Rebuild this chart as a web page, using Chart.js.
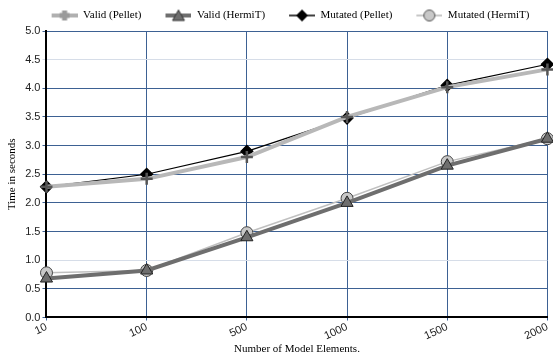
<!DOCTYPE html>
<html>
<head>
<meta charset="utf-8">
<script src="https://cdn.jsdelivr.net/npm/chart.js@4"></script>
<style>
  html, body { margin: 0; padding: 0; background: #fff; overflow: hidden; }
  .kutu { width: 553px; height: 358px; }
</style>
</head>
<body>
<div class="kutu"><canvas id="grafik"></canvas></div>
<script>
const elemanlar = ['10', '100', '500', '1000', '1500', '2000'];
const validPellet = [2.28, 2.42, 2.80, 3.50, 4.02, 4.33];
const validHermit = [0.68, 0.82, 1.40, 2.00, 2.65, 3.12];
const mutatedPellet = [2.28, 2.50, 2.90, 3.48, 4.05, 4.42];
const mutatedHermit = [0.78, 0.82, 1.48, 2.08, 2.72, 3.12];

// legend icon: blank gap on the left, then a short line with the marker in the middle
const BOSLUK = 16;
function ikon(renk, kalinlik, cizMarker) {
  const c = document.createElement('canvas');
  c.width = 26 + BOSLUK; c.height = 14;
  const x = c.getContext('2d');
  x.translate(BOSLUK, 0);
  x.strokeStyle = renk; x.lineWidth = kalinlik;
  x.beginPath(); x.moveTo(0, 7); x.lineTo(26, 7); x.stroke();
  cizMarker(x);
  return c;
}

const ikonlar = [
  ikon('#b0b0b0', 4, x => {
    x.fillStyle = '#9a9a9a';
    x.fillRect(10.5, 2, 5, 10); x.fillRect(8, 4.5, 10, 5);
  }),
  ikon('#6e6e6e', 4, x => {
    x.fillStyle = '#6e6e6e'; x.strokeStyle = '#333'; x.lineWidth = 1;
    x.beginPath(); x.moveTo(13, 1.5); x.lineTo(19, 12); x.lineTo(7, 12); x.closePath();
    x.fill(); x.stroke();
  }),
  ikon('#000', 1.5, x => {
    x.fillStyle = '#000';
    x.beginPath(); x.moveTo(13, 1); x.lineTo(19, 7); x.lineTo(13, 13); x.lineTo(7, 7); x.closePath();
    x.fill();
  }),
  ikon('#b5b5b5', 1.5, x => {
    x.fillStyle = '#c8c8c8'; x.strokeStyle = '#555'; x.lineWidth = 1;
    x.beginPath(); x.arc(13, 7, 5.5, 0, Math.PI * 2); x.fill(); x.stroke();
  })
];

const ctx = document.getElementById('grafik').getContext('2d');
new Chart(ctx, {
  type: 'line',
  data: {
    labels: elemanlar,
    datasets: [
      {
        label: 'Valid (Pellet)', data: validPellet,
        borderColor: '#b8b8b8', borderWidth: 4,
        pointStyle: 'crossRot', pointRotation: 45, pointRadius: 6,
        pointBorderColor: '#555', pointBorderWidth: 2.5, pointBackgroundColor: '#999'
      },
      {
        label: 'Valid (HermiT)', data: validHermit,
        borderColor: '#6e6e6e', borderWidth: 4,
        pointStyle: 'triangle', pointRadius: 7,
        pointBackgroundColor: '#6e6e6e', pointBorderColor: '#222', pointBorderWidth: 1
      },
      {
        label: 'Mutated (Pellet)', data: mutatedPellet,
        borderColor: '#000', borderWidth: 1.2,
        pointStyle: 'rectRot', pointRadius: 6,
        pointBackgroundColor: '#000', pointBorderColor: '#000'
      },
      {
        label: 'Mutated (HermiT)', data: mutatedHermit,
        borderColor: '#c0c0c0', borderWidth: 1.5,
        pointStyle: 'circle', pointRadius: 6,
        pointBackgroundColor: '#c8c8c8', pointBorderColor: '#444', pointBorderWidth: 1
      }
    ]
  },
  options: {
    responsive: true,
    maintainAspectRatio: false,
    animation: false,
    clip: false,
    layout: { autoPadding: false, padding: { left: 6, right: -6, top: 2, bottom: 2 } },
    plugins: {
      legend: {
        position: 'top',
        labels: {
          usePointStyle: true,
          pointStyleWidth: 26 + BOSLUK,
          padding: 8,
          color: '#000',
          font: { family: 'Liberation Serif', size: 11 },
          generateLabels: chart => chart.data.datasets.map((d, i) => ({
            text: d.label, pointStyle: ikonlar[i], datasetIndex: i,
            fontColor: '#000', lineWidth: 0, strokeStyle: 'transparent', fillStyle: 'transparent'
          }))
        }
      },
      tooltip: { enabled: false }
    },
    scales: {
      x: {
        offset: false,
        grid: { color: '#3d6193', lineWidth: 1, drawTicks: true, tickLength: 3 },
        border: { color: '#000', width: 2 },
        ticks: {
          color: '#222', maxRotation: 25, minRotation: 25, padding: 0,
          font: { family: 'Liberation Sans', size: 11 }
        },
        title: {
          display: true, text: 'Number of Model Elements.', color: '#000',
          font: { family: 'Liberation Serif', size: 11 }, padding: { top: 0, bottom: 0 }
        }
      },
      y: {
        min: 0, max: 5,
        grid: {
          color: c => (c.tick && (c.tick.value === 4.5 || c.tick.value === 1)) ? '#d6dde8' : '#3d6193',
          lineWidth: 1, tickLength: 4
        },
        border: { color: '#000', width: 2 },
        ticks: {
          stepSize: 0.5, color: '#222', padding: 2,
          callback: v => v.toFixed(1),
          font: { family: 'Liberation Sans', size: 11 }
        },
        title: {
          display: true, text: 'Time in seconds', color: '#000',
          font: { family: 'Liberation Serif', size: 11 }, padding: { top: 0, bottom: 4 }
        }
      }
    }
  }
});
</script>
</body>
</html>
